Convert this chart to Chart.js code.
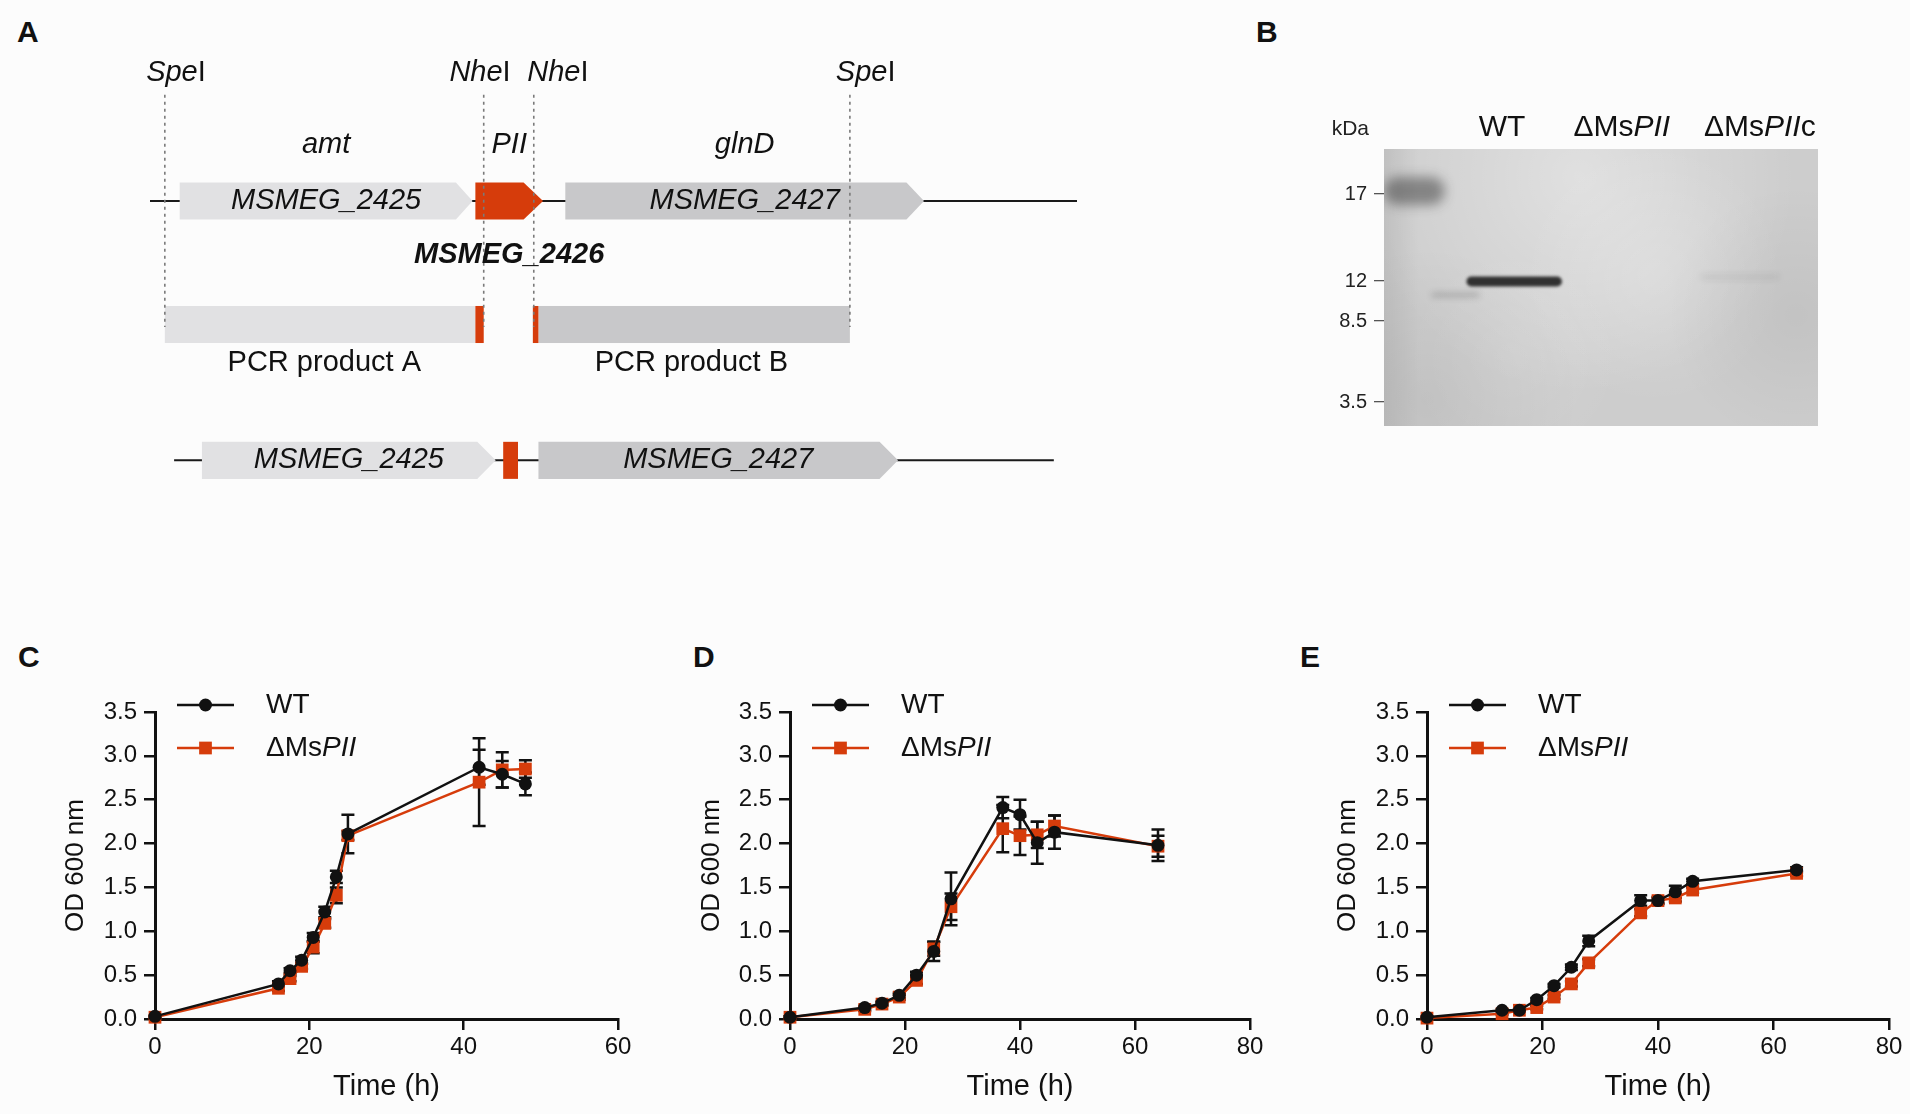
<!DOCTYPE html>
<html>
<head>
<meta charset="utf-8">
<title>MsPII growth</title>
<script src="https://cdn.jsdelivr.net/npm/chart.js@4.4.1/dist/chart.umd.min.js"></script>
<style>
  html, body { margin: 0; padding: 0; background: #fcfcfc; }
  body { position: relative; width: 1910px; height: 1114px; overflow: hidden; font-family: "Liberation Sans", Arial, sans-serif; }
  canvas { position: absolute; }
  .tag { position: absolute; font-size: 30px; font-weight: bold; color: #111; line-height: 1; }
</style>
</head>
<body>
<div class="tag" style="left:17px;top:17px">A</div>
<div class="tag" style="left:1256px;top:17px">B</div>
<div class="tag" style="left:18px;top:642px">C</div>
<div class="tag" style="left:693px;top:642px">D</div>
<div class="tag" style="left:1300px;top:642px">E</div>

<canvas id="mapChart" width="1100" height="520" style="left:0;top:0"></canvas>
<canvas id="blotChart" width="670" height="460" style="left:1240px;top:0"></canvas>
<canvas id="chartC" width="640" height="474" style="left:0;top:640px"></canvas>
<canvas id="chartD" width="630" height="474" style="left:640px;top:640px"></canvas>
<canvas id="chartE" width="640" height="474" style="left:1270px;top:640px"></canvas>

<script>
// ---------- Panel A: gene map (positions along the locus, arbitrary units 0-100) ----------
var geneNames    = ['MSMEG_2425', 'MSMEG_2426', 'MSMEG_2427'];
var geneAliases  = ['amt', 'PII', 'glnD'];
var geneStart    = [3.2, 35.1, 44.8];
var geneShoulder = [33.0, 40.3, 81.6];
var geneEnd      = [34.8, 42.4, 83.5];
var siteNames    = ['*Spe*I', '*Nhe*I', '*Nhe*I', '*Spe*I'];
var sitePos      = [1.6, 36.0, 41.4, 75.5];
var siteLabelAt  = [2.8, 35.6, 44.0, 77.2];
var pcrNames     = ['PCR product A', 'PCR product B'];
var pcrStart     = [1.6, 41.9];
var pcrEnd       = [35.1, 75.5];
var pcrTagStart  = [35.1, 41.3];
var pcrTagEnd    = [36.0, 41.9];
var mutNames     = ['MSMEG_2425', '', 'MSMEG_2427'];
var mutStart     = [5.6, 38.1, 41.9];
var mutShoulder  = [35.3, 39.7, 78.7];
var mutEnd       = [37.3, 39.7, 80.7];
var rowY         = [1.0, 2.0, 3.1];
var backboneFrom = [0, 2.6];
var backboneTo   = [100, 97.5];

// ---------- Panel B: western blot ----------
var markerLabels = ['17', '12', '8.5', '3.5'];
var markerPos    = [4.5, 13.2, 17.2, 25.3];      // migration from top of blot
var laneNames    = ['WT', 'ΔMs*PII*', 'ΔMs*PII*c'];
var lanePos      = [27.2, 54.8, 86.6];           // % of blot width
var bandFrom     = [0, 19, 11, 73];
var bandTo       = [14, 41, 22, 91];
var bandAt       = [4.2, 13.25, 14.6, 12.8];
var bandThick    = [2.8, 1.0, 0.5, 0.45];
var bandDensity  = [0.42, 0.88, 0.2, 0.09];

// ---------- Panels C-E: growth curves ----------
var timeC   = [0, 16, 17.5, 19, 20.5, 22, 23.5, 25, 42, 45, 48];
var wtC     = [0.03, 0.40, 0.55, 0.67, 0.93, 1.22, 1.62, 2.11, 2.87, 2.79, 2.68];
var wtErrC  = [0.01, 0.03, 0.03, 0.04, 0.05, 0.06, 0.07, 0.22, 0.20, 0.15, 0.13];
var mutC    = [0.02, 0.35, 0.46, 0.60, 0.82, 1.09, 1.41, 2.09, 2.70, 2.84, 2.85];
var mutErrC = [0.01, 0.03, 0.03, 0.03, 0.07, 0.05, 0.09, 0.05, 0.50, 0.20, 0.10];

var timeD   = [0, 13, 16, 19, 22, 25, 28, 37, 40, 43, 46, 64];
var wtD     = [0.02, 0.13, 0.18, 0.27, 0.50, 0.77, 1.37, 2.41, 2.33, 2.01, 2.13, 1.98];
var wtErrD  = [0.01, 0.02, 0.02, 0.03, 0.04, 0.11, 0.30, 0.12, 0.17, 0.24, 0.19, 0.18];
var mutD    = [0.02, 0.11, 0.17, 0.25, 0.44, 0.80, 1.28, 2.17, 2.09, 2.10, 2.20, 1.97];
var mutErrD = [0.01, 0.02, 0.02, 0.03, 0.04, 0.08, 0.15, 0.27, 0.22, 0.15, 0.12, 0.12];

var timeE   = [0, 13, 16, 19, 22, 25, 28, 37, 40, 43, 46, 64];
var wtE     = [0.02, 0.10, 0.10, 0.22, 0.38, 0.59, 0.89, 1.35, 1.35, 1.45, 1.57, 1.70];
var wtErrE  = [0.01, 0.01, 0.01, 0.02, 0.02, 0.03, 0.06, 0.06, 0.04, 0.07, 0.03, 0.03];
var mutE    = [0.01, 0.06, 0.10, 0.13, 0.25, 0.40, 0.64, 1.21, 1.35, 1.38, 1.47, 1.66];
var mutErrE = [0.01, 0.01, 0.01, 0.02, 0.02, 0.03, 0.04, 0.04, 0.03, 0.04, 0.03, 0.03];

var RED = '#d63c0b';
var INK = '#111111';
var FONT = '"Liberation Sans", Arial, sans-serif';

Chart.defaults.font.family = FONT;
Chart.defaults.color = INK;
Chart.defaults.animation = false;

// text with *italic* parts
function drawRich(ctx, str, x, y, size, align, weight, color) {
    var parts = str.split('*').map(function(t, i) { return {t: t, it: i % 2 === 1}; }).filter(function(p) { return p.t.length; });
    var fonts = parts.map(function(p) { return (p.it ? 'italic ' : '') + (weight || 'normal') + ' ' + size + 'px ' + FONT; });
    var widths = parts.map(function(p, i) { ctx.font = fonts[i]; return ctx.measureText(p.t).width; });
    var total = widths.reduce(function(s, w) { return s + w; }, 0);
    var cx = align === 'center' ? x - total / 2 : (align === 'right' ? x - total : x);
    ctx.fillStyle = color || INK;
    ctx.textAlign = 'left';
    ctx.textBaseline = 'middle';
    parts.forEach(function(p, i) { ctx.font = fonts[i]; ctx.fillText(p.t, cx, y); cx += widths[i]; });
}

function geneShape(ctx, x0, xs, x1, yc, h, color) {
    ctx.beginPath();
    ctx.moveTo(x0, yc - h / 2);
    ctx.lineTo(xs, yc - h / 2);
    ctx.lineTo(x1, yc);
    ctx.lineTo(xs, yc + h / 2);
    ctx.lineTo(x0, yc + h / 2);
    ctx.closePath();
    ctx.fillStyle = color;
    ctx.fill();
}

// ---------- Gene map ----------
var geneColors = ['#e1e1e3', RED, '#c8c8ca'];
var geneMapPlugin = {
    id: 'geneMap',
    afterDraw: function(chart) {
        var ctx = chart.ctx, xs = chart.scales.x, ys = chart.scales.y;
        var X = function(v) { return xs.getPixelForValue(v); };
        var Y = function(v) { return ys.getPixelForValue(v); };
        var h = Y(0.3) - Y(0);
        ctx.save();

        // backbones (wild type row and deletion row)
        ctx.strokeStyle = '#1a1a1a';
        ctx.lineWidth = 2;
        [rowY[0], rowY[2]].forEach(function(r, k) {
            ctx.beginPath();
            ctx.moveTo(X(backboneFrom[k]), Y(r));
            ctx.lineTo(X(backboneTo[k]), Y(r));
            ctx.stroke();
        });

        // wild type genes
        geneNames.forEach(function(n, i) {
            geneShape(ctx, X(geneStart[i]), X(geneShoulder[i]), X(geneEnd[i]), Y(rowY[0]), h, geneColors[i]);
        });
        // PCR products
        pcrNames.forEach(function(n, i) {
            ctx.fillStyle = geneColors[i === 0 ? 0 : 2];
            ctx.fillRect(X(pcrStart[i]), Y(rowY[1]) - h / 2, X(pcrEnd[i]) - X(pcrStart[i]), h);
            ctx.fillStyle = RED;
            ctx.fillRect(X(pcrTagStart[i]), Y(rowY[1]) - h / 2, X(pcrTagEnd[i]) - X(pcrTagStart[i]), h);
        });
        // deletion mutant
        mutNames.forEach(function(n, i) {
            geneShape(ctx, X(mutStart[i]), X(mutShoulder[i]), X(mutEnd[i]), Y(rowY[2]), h, geneColors[i]);
        });

        // restriction sites
        ctx.strokeStyle = '#7a7a7a';
        ctx.lineWidth = 1.6;
        ctx.setLineDash([3, 4]);
        sitePos.forEach(function(p) {
            ctx.beginPath();
            ctx.moveTo(X(p), Y(0.14));
            ctx.lineTo(X(p), Y(2.02));
            ctx.stroke();
        });
        ctx.setLineDash([]);

        // labels
        siteNames.forEach(function(n, i) { drawRich(ctx, n, X(siteLabelAt[i]), Y(-0.04), 29, 'center'); });
        geneAliases.forEach(function(n, i) {
            drawRich(ctx, '*' + n + '*', X((geneStart[i] + geneEnd[i]) / 2), Y(0.55), 29, 'center');
        });
        drawRich(ctx, '*' + geneNames[0] + '*', X((geneStart[0] + geneEnd[0]) / 2), Y(rowY[0]), 29, 'center');
        drawRich(ctx, '*' + geneNames[2] + '*', X((geneStart[2] + geneEnd[2]) / 2), Y(rowY[0]), 29, 'center');
        drawRich(ctx, '*' + geneNames[1] + '*', X((geneStart[1] + geneEnd[1]) / 2), Y(1.44), 29, 'center', 'bold');
        pcrNames.forEach(function(n, i) {
            var from = Math.min(pcrStart[i], pcrTagStart[i]), to = Math.max(pcrEnd[i], pcrTagEnd[i]);
            drawRich(ctx, n, X((from + to) / 2), Y(2.31), 29, 'center');
        });
        mutNames.forEach(function(n, i) {
            if (n) drawRich(ctx, '*' + n + '*', X((mutStart[i] + mutEnd[i]) / 2), Y(rowY[2]), 29, 'center');
        });
        ctx.restore();
    }
};

var mapChart = new Chart(document.getElementById('mapChart'), {
    type: 'scatter',
    data: { datasets: [] },
    options: {
        responsive: false,
        events: [],
        layout: { padding: { left: 150, right: 23, top: 77.5, bottom: 10.25 } },
        plugins: { legend: { display: false }, tooltip: { enabled: false } },
        scales: {
            x: { type: 'linear', display: false, min: 0, max: 100 },
            y: { type: 'linear', display: false, min: 0, max: 3.5, reverse: true }
        }
    },
    plugins: [geneMapPlugin]
});

// ---------- Western blot ----------
var blotPlugin = {
    id: 'blot',
    beforeDatasetsDraw: function(chart) {
        var ctx = chart.ctx, a = chart.chartArea, xs = chart.scales.x, ys = chart.scales.y;
        var w = a.right - a.left, hgt = a.bottom - a.top;
        ctx.save();
        ctx.beginPath();
        ctx.rect(a.left, a.top, w, hgt);
        ctx.clip();
        ctx.fillStyle = '#cdcdcd';
        ctx.fillRect(a.left, a.top, w, hgt);
        // uneven film exposure
        var spots = [[0.45, 0.1, 0.5, 'rgba(255,255,255,0.38)'], [0.62, 0.45, 0.3, 'rgba(255,255,255,0.18)'],
                     [0.1, 0.9, 0.35, 'rgba(0,0,0,0.06)'], [0.95, 0.6, 0.3, 'rgba(0,0,0,0.05)'],
                     [0.3, 0.75, 0.25, 'rgba(255,255,255,0.1)']];
        spots.forEach(function(s) {
            var cx = a.left + s[0] * w, cy = a.top + s[1] * hgt, r = s[2] * w;
            var g = ctx.createRadialGradient(cx, cy, 0, cx, cy, r);
            g.addColorStop(0, s[3]);
            g.addColorStop(1, s[3].replace(/[\d.]+\)$/, '0)'));
            ctx.fillStyle = g;
            ctx.fillRect(a.left, a.top, w, hgt);
        });
        var edge = ctx.createLinearGradient(a.left, 0, a.left + 0.08 * w, 0);
        edge.addColorStop(0, 'rgba(0,0,0,0.07)');
        edge.addColorStop(1, 'rgba(0,0,0,0)');
        ctx.fillStyle = edge;
        ctx.fillRect(a.left, a.top, w, hgt);
        // bands
        bandFrom.forEach(function(f, i) {
            var t = ys.getPixelForValue(bandThick[i]) - ys.getPixelForValue(0);
            var y = ys.getPixelForValue(bandAt[i]);
            ctx.filter = 'blur(' + (i === 1 ? 1.5 : (i === 0 ? 6 : 3)) + 'px)';
            ctx.strokeStyle = 'rgba(25,25,25,' + bandDensity[i] + ')';
            ctx.lineWidth = t;
            ctx.lineCap = 'round';
            ctx.beginPath();
            ctx.moveTo(xs.getPixelForValue(f) + t / 2, y);
            ctx.lineTo(xs.getPixelForValue(bandTo[i]) - t / 2, y);
            ctx.stroke();
        });
        ctx.filter = 'none';
        ctx.restore();
    },
    afterDraw: function(chart) {
        var ctx = chart.ctx, a = chart.chartArea, xs = chart.scales.x, ys = chart.scales.y;
        ctx.save();
        drawRich(ctx, 'kDa', ys.right - 15, a.top - 20, 21, 'right', 'normal', '#222');
        laneNames.forEach(function(n, i) {
            drawRich(ctx, n, xs.getPixelForValue(lanePos[i]), a.top - 21, 30, 'center');
        });
        ctx.restore();
    }
};

var blotChart = new Chart(document.getElementById('blotChart'), {
    type: 'scatter',
    data: { datasets: [] },
    options: {
        responsive: false,
        events: [],
        layout: { padding: { left: 94, right: 92, top: 149, bottom: 34 } },
        plugins: { legend: { display: false }, tooltip: { enabled: false } },
        scales: {
            x: { type: 'linear', display: false, min: 0, max: 100 },
            y: {
                type: 'linear', min: 0, max: 27.7, reverse: true, position: 'left',
                afterBuildTicks: function(s) { s.ticks = markerPos.map(function(v) { return {value: v}; }); },
                afterFit: function(s) { s.width = 50; },
                ticks: { autoSkip: false, font: { size: 20 }, color: '#222', padding: 7,
                         callback: function(v, i) { return markerLabels[i]; } },
                grid: { drawOnChartArea: false, tickLength: 10, color: '#555', lineWidth: 1.3 },
                border: { display: false }
            }
        }
    },
    plugins: [blotPlugin]
});

// ---------- Growth curves ----------
var errorBarPlugin = {
    id: 'errorBars',
    beforeDatasetsDraw: function(chart) {
        var ctx = chart.ctx, xs = chart.scales.x, ys = chart.scales.y;
        ctx.save();
        ctx.strokeStyle = INK;
        ctx.lineWidth = 2.5;
        chart.data.datasets.forEach(function(ds) {
            ds.data.forEach(function(p, i) {
                var e = ds.errors[i];
                var x = xs.getPixelForValue(p.x);
                var yt = ys.getPixelForValue(p.y + e), yb = ys.getPixelForValue(p.y - e);
                ctx.beginPath();
                ctx.moveTo(x, yt); ctx.lineTo(x, yb);
                ctx.moveTo(x - 6.5, yt); ctx.lineTo(x + 6.5, yt);
                ctx.moveTo(x - 6.5, yb); ctx.lineTo(x + 6.5, yb);
                ctx.stroke();
            });
        });
        ctx.restore();
    }
};

var odLegendPlugin = {
    id: 'odLegend',
    afterDatasetsDraw: function(chart) {
        var ctx = chart.ctx, a = chart.chartArea;
        chart.data.datasets.forEach(function(ds, i) {
            var y = a.top - 7 + i * 43, x0 = a.left + 22;
            ctx.save();
            ctx.strokeStyle = ds.borderColor;
            ctx.lineWidth = ds.borderWidth;
            ctx.beginPath();
            ctx.moveTo(x0, y);
            ctx.lineTo(x0 + 57, y);
            ctx.stroke();
            ctx.fillStyle = ds.pointBackgroundColor;
            Chart.helpers.drawPoint(ctx, { pointStyle: ds.pointStyle, radius: ds.pointRadius, borderWidth: 0, rotation: 0 }, x0 + 28.5, y);
            drawRich(ctx, ds.label, x0 + 89, y, 28, 'left');
            ctx.restore();
        });
    }
};

function points(t, v) {
    return t.map(function(x, i) { return {x: x, y: v[i]}; });
}

function growthChart(id, t, wt, wtErr, mut, mutErr, xMax, box) {
    return new Chart(document.getElementById(id), {
        type: 'line',
        data: {
            datasets: [{
                label: 'WT',
                data: points(t, wt), errors: wtErr,
                borderColor: INK, backgroundColor: INK, pointBackgroundColor: INK,
                borderWidth: 2.5, pointStyle: 'circle', pointRadius: 6.5, pointBorderWidth: 0,
                tension: 0, clip: false
            }, {
                label: 'ΔMs*PII*',
                data: points(t, mut), errors: mutErr,
                borderColor: RED, backgroundColor: RED, pointBackgroundColor: RED,
                borderWidth: 2.5, pointStyle: 'rect', pointRadius: 9, pointBorderWidth: 0,
                tension: 0, clip: false
            }]
        },
        options: {
            responsive: false,
            events: [],
            layout: { padding: { left: 0, top: box.top, right: box.right, bottom: 0 } },
            plugins: { legend: { display: false }, tooltip: { enabled: false } },
            scales: {
                x: {
                    type: 'linear', min: 0, max: xMax,
                    afterFit: function(s) { s.height = box.xh; },
                    ticks: { stepSize: 20, font: { size: 24 }, padding: 3, color: INK },
                    grid: { drawOnChartArea: false, tickLength: 11, lineWidth: 2.5, color: INK },
                    border: { color: INK, width: 3 },
                    title: { display: true, text: 'Time (h)', font: { size: 29 }, color: INK, padding: { top: 0, bottom: 10 } }
                },
                y: {
                    type: 'linear', min: 0, max: 3.5,
                    afterFit: function(s) { s.width = box.yw; },
                    ticks: { stepSize: 0.5, font: { size: 24 }, padding: 7, color: INK,
                             callback: function(v) { return v.toFixed(1); } },
                    grid: { drawOnChartArea: false, tickLength: 11, lineWidth: 2.5, color: INK },
                    border: { color: INK, width: 3 },
                    title: { display: true, text: 'OD 600 nm', font: { size: 26 }, color: INK, padding: { top: box.tpad, bottom: 0 } }
                }
            }
        },
        plugins: [errorBarPlugin, odLegendPlugin]
    });
}

var chartC = growthChart('chartC', timeC, wtC, wtErrC, mutC, mutErrC, 60, { top: 72, right: 22, yw: 155, xh: 95, tpad: 60.4 });
var chartD = growthChart('chartD', timeD, wtD, wtErrD, mutD, mutErrD, 80, { top: 72, right: 20, yw: 150, xh: 95, tpad: 56.4 });
var chartE = growthChart('chartE', timeE, wtE, wtErrE, mutE, mutErrE, 80, { top: 72, right: 21, yw: 157, xh: 95, tpad: 62.4 });
</script>
</body>
</html>
